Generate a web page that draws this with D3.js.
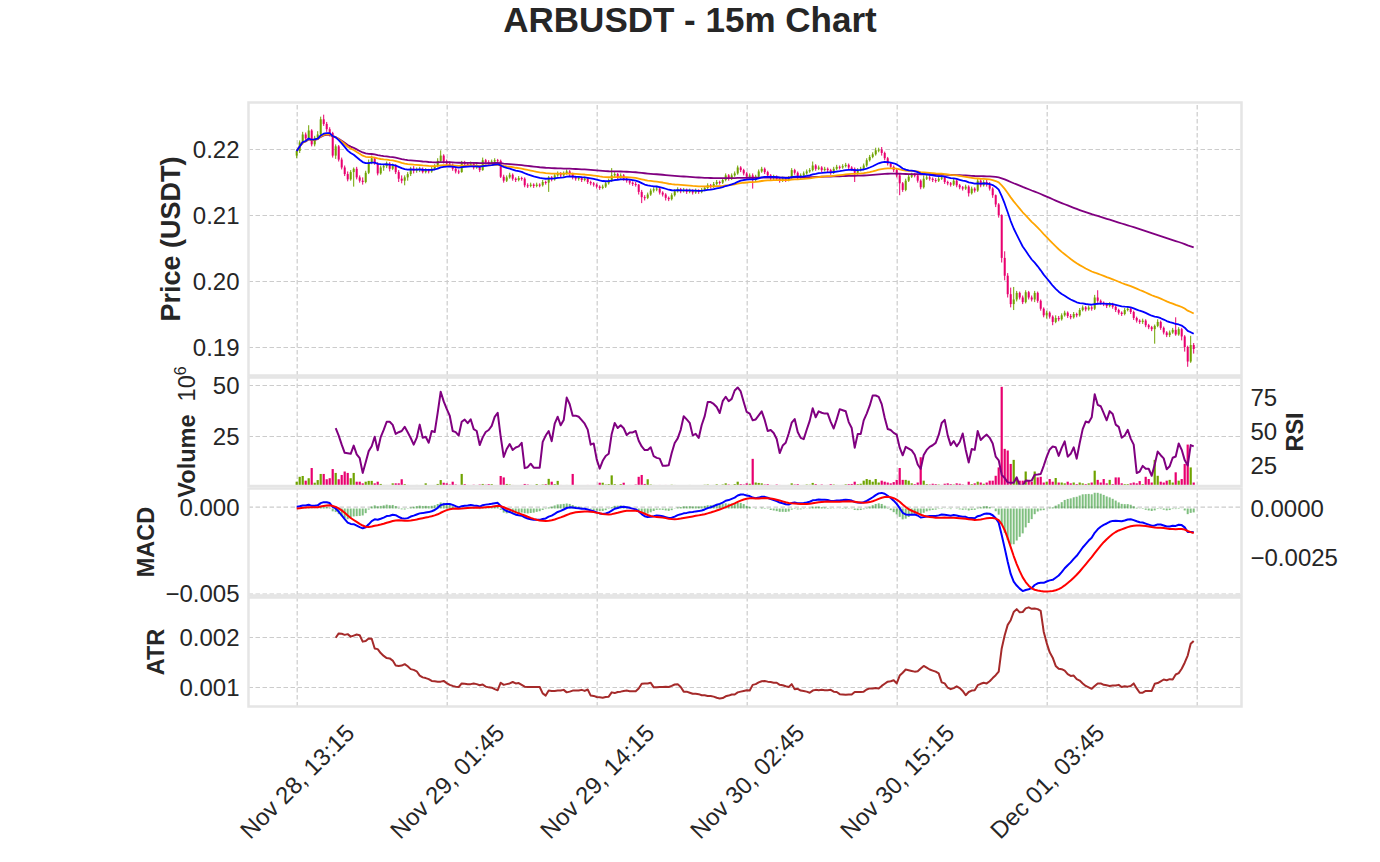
<!DOCTYPE html>
<html>
<head>
<meta charset="utf-8">
<title>ARBUSDT - 15m Chart</title>
<script src="https://cdn.jsdelivr.net/npm/d3@7"></script>
<style>
  body { margin: 0; background: #fff; }
  text { font-family: "Liberation Sans", Arial, Helvetica, sans-serif; fill: #262626; }
</style>
</head>
<body>
<svg id="chart" width="1380" height="862"></svg>
<script>
// 15m candles, prices in 0.0001 USDT, volume in millions
const firstOpen = 2190;
const close = [
  2197, 2210, 2222, 2216, 2228, 2207, 2217, 2222, 2245, 2238,
  2230, 2224, 2190, 2204, 2184, 2172, 2162, 2154, 2165, 2170,
  2157, 2152, 2150, 2164, 2180, 2186, 2178, 2163, 2172, 2174,
  2178, 2170, 2175, 2165, 2155, 2152, 2157, 2162, 2170, 2167,
  2169, 2170, 2165, 2168, 2166, 2170, 2174, 2182, 2190, 2181,
  2178, 2176, 2170, 2166, 2165, 2180, 2177, 2176, 2178, 2172,
  2174, 2168, 2183, 2180, 2179, 2181, 2183, 2182, 2158, 2152,
  2157, 2161, 2155, 2153, 2156, 2155, 2145, 2144, 2146, 2144,
  2146, 2145, 2150, 2149, 2157, 2154, 2160, 2163, 2160, 2163,
  2166, 2162, 2157, 2155, 2156, 2153, 2155, 2150, 2148, 2146,
  2143, 2141, 2143, 2148, 2152, 2160, 2162, 2157, 2160, 2155,
  2152, 2149, 2147, 2146, 2135, 2127, 2126, 2131, 2137, 2139,
  2140, 2134, 2131, 2126, 2124, 2130, 2136, 2139, 2136, 2138,
  2135, 2137, 2134, 2137, 2135, 2138, 2141, 2145, 2143, 2147,
  2150, 2149, 2153, 2160, 2155, 2160, 2163, 2172, 2168, 2163,
  2158, 2160, 2153, 2158, 2166, 2170, 2165, 2160, 2156, 2158,
  2155, 2152, 2155, 2153, 2156, 2168, 2164, 2157, 2160, 2163,
  2166, 2168, 2175, 2170, 2172, 2168, 2170, 2168, 2164, 2170,
  2173, 2172, 2174, 2176, 2172, 2170, 2164, 2168, 2170, 2175,
  2183, 2188, 2192, 2198, 2199, 2194, 2186, 2178, 2173, 2168,
  2160, 2148, 2138, 2152, 2158, 2161, 2160, 2152, 2142, 2155,
  2157, 2155, 2153, 2152, 2155, 2157, 2150, 2148, 2146, 2152,
  2145, 2142, 2140, 2143, 2133, 2140, 2137, 2152, 2145, 2150,
  2146, 2140, 2130, 2116, 2100, 2035, 2008, 1980, 1965, 1972,
  1982, 1975, 1968, 1983, 1975, 1972, 1982, 1970, 1958, 1948,
  1952, 1946, 1938, 1944, 1942, 1948, 1952, 1947, 1945, 1950,
  1948, 1956, 1960, 1957, 1960, 1958, 1975, 1970, 1967, 1965,
  1962, 1965, 1961, 1956, 1952, 1950, 1956, 1958, 1953, 1944,
  1940, 1938, 1940, 1933, 1930, 1927, 1932, 1938, 1929, 1922,
  1918, 1922, 1926, 1919, 1927, 1916, 1900, 1878, 1903, 1897
];
const high = [
  2199, 2213, 2226, 2225, 2236, 2230, 2220, 2227, 2249, 2252,
  2241, 2233, 2226, 2207, 2206, 2187, 2175, 2166, 2168, 2172,
  2173, 2160, 2157, 2167, 2184, 2190, 2188, 2180, 2175, 2177,
  2181, 2180, 2178, 2177, 2168, 2160, 2160, 2165, 2173, 2174,
  2172, 2173, 2172, 2171, 2170, 2173, 2177, 2186, 2198, 2192,
  2184, 2181, 2178, 2172, 2169, 2182, 2182, 2180, 2181, 2180,
  2177, 2176, 2187, 2185, 2183, 2184, 2186, 2185, 2184, 2161,
  2160, 2164, 2163, 2157, 2159, 2158, 2157, 2148, 2149, 2148,
  2149, 2148, 2153, 2152, 2159, 2159, 2163, 2166, 2165, 2166,
  2169, 2168, 2164, 2159, 2159, 2158, 2158, 2157, 2152, 2150,
  2148, 2145, 2146, 2151, 2155, 2171, 2165, 2164, 2163, 2162,
  2157, 2154, 2151, 2150, 2147, 2138, 2130, 2134, 2140, 2142,
  2144, 2142, 2136, 2133, 2128, 2133, 2139, 2142, 2141, 2141,
  2140, 2140, 2139, 2140, 2139, 2141, 2144, 2148, 2147, 2150,
  2153, 2152, 2156, 2163, 2162, 2163, 2166, 2175, 2174, 2170,
  2165, 2163, 2163, 2161, 2169, 2173, 2172, 2167, 2162, 2161,
  2160, 2157, 2158, 2157, 2159, 2171, 2170, 2166, 2163, 2166,
  2169, 2171, 2181, 2177, 2175, 2174, 2173, 2172, 2170, 2173,
  2176, 2175, 2177, 2179, 2178, 2174, 2172, 2171, 2173, 2178,
  2186, 2191, 2195, 2202, 2202, 2203, 2196, 2188, 2180, 2175,
  2170, 2162, 2150, 2155, 2161, 2164, 2164, 2162, 2154, 2160,
  2161, 2160, 2157, 2156, 2158, 2160, 2159, 2152, 2150, 2155,
  2154, 2147, 2144, 2146, 2145, 2143, 2142, 2156, 2154, 2153,
  2153, 2150, 2142, 2131, 2118, 2101, 2045, 2012, 1990, 1991,
  1985, 1984, 1978, 1986, 1985, 1978, 1985, 1984, 1972, 1960,
  1955, 1954, 1948, 1948, 1947, 1951, 1955, 1954, 1950, 1953,
  1952, 1959, 1963, 1962, 1963, 1962, 1979, 1986, 1972, 1969,
  1967, 1968, 1967, 1963, 1958, 1954, 1959, 1961, 1960, 1955,
  1946, 1942, 1943, 1942, 1935, 1932, 1934, 1942, 1940, 1931,
  1924, 1925, 1929, 1945, 1930, 1929, 1918, 1902, 1917, 1906
];
const low = [
  2186, 2194, 2207, 2212, 2213, 2204, 2204, 2214, 2220, 2235,
  2226, 2219, 2187, 2185, 2181, 2169, 2159, 2151, 2152, 2143,
  2154, 2149, 2146, 2148, 2162, 2177, 2176, 2160, 2161, 2167,
  2171, 2166, 2168, 2162, 2150, 2148, 2145, 2152, 2159, 2163,
  2164, 2165, 2163, 2163, 2163, 2164, 2168, 2172, 2180, 2178,
  2175, 2173, 2167, 2163, 2162, 2164, 2174, 2173, 2174, 2169,
  2170, 2165, 2167, 2177, 2176, 2177, 2179, 2179, 2156, 2149,
  2150, 2155, 2152, 2150, 2151, 2152, 2142, 2141, 2142, 2141,
  2142, 2142, 2143, 2146, 2135, 2151, 2152, 2158, 2157, 2158,
  2161, 2159, 2154, 2152, 2152, 2150, 2151, 2147, 2145, 2143,
  2140, 2138, 2139, 2141, 2146, 2150, 2157, 2154, 2155, 2152,
  2149, 2146, 2144, 2143, 2131, 2118, 2122, 2124, 2129, 2134,
  2136, 2131, 2128, 2122, 2121, 2122, 2128, 2134, 2133, 2134,
  2132, 2133, 2131, 2132, 2132, 2133, 2136, 2139, 2140, 2141,
  2145, 2146, 2147, 2151, 2152, 2153, 2158, 2161, 2165, 2160,
  2155, 2155, 2140, 2150, 2156, 2164, 2162, 2157, 2153, 2153,
  2152, 2149, 2150, 2150, 2151, 2155, 2161, 2154, 2155, 2158,
  2161, 2164, 2166, 2167, 2168, 2165, 2166, 2165, 2161, 2162,
  2168, 2169, 2170, 2172, 2169, 2167, 2150, 2161, 2166, 2168,
  2173, 2181, 2186, 2190, 2195, 2190, 2183, 2175, 2170, 2165,
  2157, 2130, 2135, 2136, 2150, 2156, 2157, 2149, 2139, 2140,
  2153, 2152, 2150, 2149, 2150, 2153, 2147, 2145, 2143, 2144,
  2142, 2139, 2137, 2138, 2128, 2131, 2134, 2135, 2142, 2143,
  2143, 2137, 2126, 2112, 2096, 2028, 2001, 1975, 1960, 1956,
  1969, 1972, 1965, 1966, 1972, 1969, 1968, 1967, 1955, 1945,
  1943, 1943, 1933, 1936, 1939, 1940, 1946, 1944, 1942, 1943,
  1945, 1946, 1954, 1954, 1955, 1955, 1956, 1967, 1964, 1962,
  1959, 1960, 1958, 1953, 1949, 1947, 1948, 1954, 1950, 1941,
  1937, 1935, 1935, 1930, 1927, 1924, 1905, 1930, 1926, 1919,
  1915, 1915, 1920, 1917, 1917, 1910, 1893, 1870, 1876, 1890
];
const volume = [
  2.6, 5.0, 5.4, 3.1, 4.3, 9.3, 2.1, 3.4, 6.4, 6.4,
  3.8, 4.3, 8.8, 6.9, 3.8, 5.9, 7.6, 6.9, 4.3, 6.9,
  2.6, 2.6, 1.8, 2.6, 3.0, 3.0, 1.8, 2.6, 1.5, 1.0,
  1.0, 1.0, 1.8, 1.8, 1.8, 3.8, 1.4, 1.0, 0.9, 0.8,
  1.0, 0.7, 0.8, 1.8, 0.9, 0.8, 1.0, 1.5, 3.4, 2.1,
  1.8, 1.2, 2.6, 1.2, 1.0, 6.4, 1.4, 1.0, 0.9, 1.1,
  0.8, 1.2, 1.5, 1.1, 1.4, 1.4, 0.9, 0.8, 5.4, 4.7,
  1.5, 1.2, 1.0, 0.9, 0.8, 1.0, 1.5, 1.2, 1.0, 0.9,
  1.4, 1.0, 1.2, 1.4, 4.0, 2.6, 1.4, 3.0, 1.0, 0.8,
  1.0, 0.9, 6.4, 1.0, 0.8, 0.9, 0.7, 1.0, 0.8, 0.9,
  1.0, 2.1, 2.1, 1.2, 1.4, 5.7, 1.4, 1.0, 1.4, 2.1,
  0.9, 1.0, 0.8, 1.2, 5.0, 5.9, 1.5, 3.8, 1.2, 1.0,
  0.9, 1.0, 0.8, 1.0, 0.9, 1.1, 1.0, 0.8, 0.7, 0.9,
  0.8, 1.0, 0.7, 0.8, 0.9, 0.8, 1.1, 1.2, 0.8, 1.0,
  1.3, 0.9, 1.2, 1.8, 1.2, 1.0, 1.4, 2.6, 1.4, 1.2,
  1.8, 1.6, 13.8, 2.2, 2.0, 1.8, 1.2, 1.4, 1.0, 0.9,
  1.2, 1.0, 0.8, 0.9, 1.0, 1.8, 1.2, 1.4, 0.9, 1.0,
  1.2, 1.1, 2.0, 1.4, 1.0, 1.2, 0.8, 1.0, 1.4, 1.2,
  1.0, 0.9, 1.0, 1.3, 1.4, 1.5, 2.6, 1.4, 1.6, 3.1,
  3.9, 3.5, 2.6, 3.9, 2.2, 3.1, 2.6, 2.2, 1.8, 2.4,
  3.5, 9.3, 3.5, 3.5, 3.1, 1.8, 1.4, 2.2, 14.6, 3.1,
  1.4, 1.2, 1.6, 1.4, 1.2, 1.0, 1.6, 1.8, 1.4, 1.2,
  1.8, 1.6, 1.2, 1.0, 2.6, 1.4, 1.8, 2.6, 2.2, 1.6,
  2.2, 3.1, 3.1, 5.5, 9.6, 49.1, 18.7, 17.9, 11.3, 13.3,
  3.9, 3.1, 3.1, 7.6, 3.1, 2.6, 7.6, 4.7, 5.0, 2.2,
  2.6, 3.9, 2.6, 4.4, 2.2, 2.2, 1.8, 2.6, 1.8, 2.2,
  1.4, 2.2, 1.8, 1.4, 1.8, 2.2, 8.0, 3.5, 2.2, 3.9,
  1.8, 3.5, 1.4, 4.7, 4.7, 1.8, 1.4, 1.4, 1.8, 2.2,
  1.8, 2.9, 1.4, 5.0, 3.9, 2.2, 13.3, 5.5, 2.6, 2.2,
  3.1, 3.5, 2.2, 7.2, 3.1, 3.9, 11.3, 20.8, 9.6, 2.2
];
const tickIndex = [0, 50, 100, 150, 200, 250, 300];
const tickLabels = ["Nov 28, 13:15", "Nov 29, 01:45", "Nov 29, 14:15", "Nov 30, 02:45",
                    "Nov 30, 15:15", "Dec 01, 03:45", ""];
const priceTicks = [0.19, 0.20, 0.21, 0.22];
const volTicks = [25e6, 50e6];
const rsiTicks = [25, 50, 75];
const macdTicks = [-0.005, 0];
const sigTicks = [-0.0025, 0];
const atrTicks = [0.001, 0.002];

// ---- indicators (pandas-style) ----
function ema(values, span) {           // ewm(span).mean(), adjust=True
  const a = 2 / (span + 1);
  let num = 0, den = 0;
  return values.map(v => {
    num = v + (1 - a) * num;
    den = 1 + (1 - a) * den;
    return num / den;
  });
}
function rolling(values, n) {
  return values.map((v, i) => i < n - 1 ? null : d3.mean(values.slice(i - n + 1, i + 1)));
}

const bars = close.map((c, i) => ({
  i: i,
  o: (i ? close[i - 1] : firstOpen) / 1e4,   // open = previous close
  h: high[i] / 1e4,
  l: low[i] / 1e4,
  c: c / 1e4,
  v: volume[i] * 1e6
}));
const closes = bars.map(d => d.c);

const ema20 = ema(closes, 20), ema50 = ema(closes, 50), ema200 = ema(closes, 200);
const ema12 = ema(closes, 12), ema26 = ema(closes, 26);
const macd = ema12.map((v, i) => v - ema26[i]);
const signal = ema(macd, 9);
const hist = macd.map((v, i) => v - signal[i]);

const delta = closes.map((c, i) => i ? c - closes[i - 1] : 0);
const avgGain = rolling(delta.map(d => d > 0 ? d : 0), 14);
const avgLoss = rolling(delta.map(d => d < 0 ? -d : 0), 14);
const rsi = avgGain.map((g, i) => g == null ? null : 100 - 100 / (1 + g / avgLoss[i]));

const tr = bars.map((d, i) => i === 0 ? d.h - d.l :
  Math.max(d.h - d.l, Math.abs(d.h - bars[i - 1].c), Math.abs(d.l - bars[i - 1].c)));
const atr = rolling(tr, 14);

// ---- layout ----
const svg = d3.select("#chart");
const X0 = 248.5, X1 = 1241.5;
const panel = {
  price: [102.5, 375.5],
  vol: [377.5, 486],
  macd: [488.5, 595.5],
  atr: [597.5, 706.5]
};
const upColor = "#6fa300", downColor = "#e8006f";
const colorOf = d => d.c >= d.o ? upColor : downColor;
const tickFont = "24px";

const x = d3.scaleLinear().domain([0, 300]).range([296.7, 1196.7]);
const yPrice = d3.scaleLinear().domain([0.19, 0.22]).range([347, 149]);
const yVol = d3.scaleLinear().domain([0, 50e6]).range([487, 385]);
const yRsi = d3.scaleLinear().domain([25, 75]).range([465.2, 396.8]);
const yMacd = d3.scaleLinear().domain([-0.005, 0]).range([593.5, 506.7]);   // left: MACD
const ySig = d3.scaleLinear().domain([-0.0025, 0]).range([556.7, 508.5]);   // right: signal + hist
const yAtr = d3.scaleLinear().domain([0.001, 0.002]).range([687, 637]);

const defs = svg.append("defs");
Object.entries(panel).forEach(([name, [t, b]]) => {
  defs.append("clipPath").attr("id", "clip-" + name)
    .append("rect").attr("x", X0).attr("y", t).attr("width", X1 - X0).attr("height", b - t);
});

function grid(name, yScale, yTicks) {
  const [t, b] = panel[name];
  const g = svg.append("g");
  g.append("g").attr("transform", `translate(0,${b})`)
    .call(d3.axisBottom(x).tickValues(tickIndex).tickSize(-(b - t)).tickFormat(""));
  g.append("g").attr("transform", `translate(${X0},0)`)
    .call(d3.axisLeft(yScale).tickValues(yTicks).tickSize(-(X1 - X0)).tickFormat(""));
  g.selectAll(".domain").remove();
  g.selectAll("line").attr("stroke", "#cccccc").attr("stroke-width", 1.2)
    .attr("stroke-dasharray", "4.5,2.5");
}
grid("price", yPrice, priceTicks);
grid("vol", yVol, volTicks);
grid("macd", yMacd, macdTicks);
grid("atr", yAtr, atrTicks);

function axis(gen, xPos, scale, ticks, fmt) {
  const g = svg.append("g").attr("transform", `translate(${xPos},0)`)
    .call(gen(scale).tickValues(ticks).tickFormat(fmt).tickSize(0).tickPadding(9));
  g.select(".domain").remove();
  g.attr("font-family", null).attr("font-size", null);
  g.selectAll("text").style("font-size", tickFont).attr("dy", "0.35em");
}
axis(d3.axisLeft, X0, yPrice, priceTicks, d3.format(".2f"));
axis(d3.axisLeft, X0, yVol, volTicks, d => d / 1e6);
axis(d3.axisRight, X1, yRsi, rsiTicks, d3.format("d"));
axis(d3.axisLeft, X0, yMacd, macdTicks, d3.format(".3f"));
axis(d3.axisRight, X1, ySig, sigTicks, d3.format(".4f"));
axis(d3.axisLeft, X0, yAtr, atrTicks, d3.format(".3f"));

// x tick labels (rotated, centred on tick)
const xa = svg.append("g").attr("transform", `translate(0,${panel.atr[1]})`)
  .call(d3.axisBottom(x).tickValues(tickIndex).tickFormat((d, i) => tickLabels[i]).tickSize(0));
xa.select(".domain").remove();
xa.attr("font-family", null).attr("font-size", null);
xa.selectAll("text").style("font-size", tickFont)
  .attr("y", 0).attr("dy", "0.35em")
  .attr("text-anchor", "middle")
  .attr("transform", "translate(0,75) rotate(-45)");

// ---- price panel ----
const pg = svg.append("g").attr("clip-path", "url(#clip-price)");
pg.selectAll("line.wick").data(bars).join("line").attr("class", "wick")
  .attr("x1", d => x(d.i)).attr("x2", d => x(d.i))
  .attr("y1", d => yPrice(d.h)).attr("y2", d => yPrice(d.l))
  .attr("stroke", colorOf).attr("stroke-width", 1);
pg.selectAll("rect.body").data(bars).join("rect").attr("class", "body")
  .attr("x", d => x(d.i) - 1).attr("width", 2)
  .attr("y", d => yPrice(Math.max(d.o, d.c)))
  .attr("height", d => Math.max(1, Math.abs(yPrice(d.o) - yPrice(d.c))))
  .attr("fill", colorOf);

function drawLine(g, values, yScale, color, width) {
  const line = d3.line()
    .defined(d => d != null)
    .x((d, i) => x(i))
    .y(d => yScale(d));
  g.append("path").datum(values).attr("d", line)
    .attr("fill", "none").attr("stroke", color).attr("stroke-width", width)
    .attr("stroke-linejoin", "round");
}
drawLine(pg, ema200, yPrice, "#800080", 1.8);
drawLine(pg, ema50, yPrice, "#ffa500", 1.8);
drawLine(pg, ema20, yPrice, "#0000ff", 1.8);

// ---- volume + RSI panel ----
const vg = svg.append("g").attr("clip-path", "url(#clip-vol)");
vg.selectAll("rect").data(bars).join("rect")
  .attr("x", d => x(d.i) - 1.1).attr("width", 2.2)
  .attr("y", d => yVol(d.v)).attr("height", d => yVol(0) - yVol(d.v))
  .attr("fill", colorOf);
drawLine(vg, rsi, yRsi, "#800080", 2);

// ---- MACD panel ----
const mg = svg.append("g").attr("clip-path", "url(#clip-macd)");
mg.selectAll("rect").data(hist).join("rect")
  .attr("x", (d, i) => x(i) - 1).attr("width", 2)
  .attr("y", d => Math.min(ySig(d), ySig(0)))
  .attr("height", d => Math.abs(ySig(d) - ySig(0)))
  .attr("fill", "#008000").attr("fill-opacity", 0.5);
drawLine(mg, macd, yMacd, "#0000ff", 2);
drawLine(mg, signal, ySig, "#ff0000", 2);

// ---- ATR panel ----
const ag = svg.append("g").attr("clip-path", "url(#clip-atr)");
drawLine(ag, atr, yAtr, "#a52a2a", 2);

// panel frames
Object.values(panel).forEach(([t, b]) => {
  svg.append("rect").attr("x", X0).attr("y", t).attr("width", X1 - X0).attr("height", b - t)
    .attr("fill", "none").attr("stroke", "#e5e5e5").attr("stroke-width", 2.5);
});

// ---- titles and axis labels ----
svg.append("text").attr("x", 690).attr("y", 32).attr("text-anchor", "middle")
  .style("font-size", "35px").style("font-weight", "bold").text("ARBUSDT - 15m Chart");

function yLabel(cx, cy, size, txt) {
  return svg.append("text")
    .attr("transform", `translate(${cx},${cy}) rotate(-90)`)
    .attr("text-anchor", "middle").attr("dy", "0.35em")
    .style("font-size", size + "px").style("font-weight", "bold").text(txt);
}
yLabel(171, 239, 27, "Price (USDT)");
yLabel(146, 542, 23.5, "MACD");
yLabel(156, 652, 23.5, "ATR");
yLabel(1295, 432, 23.5, "RSI");
const vl = yLabel(187, 432, 23.5, "Volume");
vl.append("tspan").style("font-weight", "normal").text("\u00a0\u00a010");
vl.append("tspan").style("font-weight", "normal").style("font-size", "16px")
  .attr("dy", "-0.6em").text("6");
</script>
</body>
</html>
